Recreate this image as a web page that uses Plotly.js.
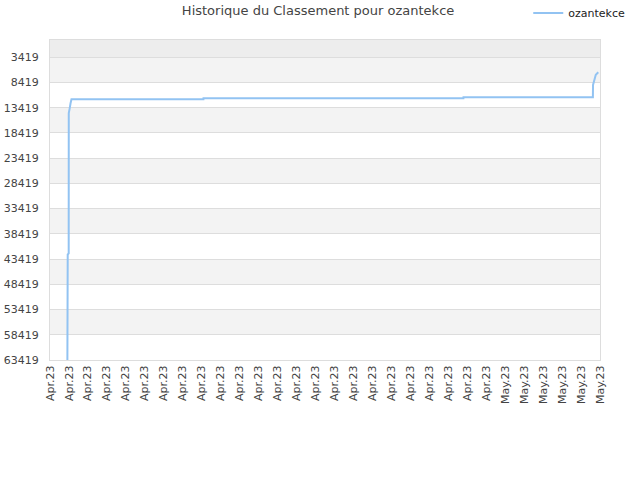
<!DOCTYPE html>
<html>
<head>
<meta charset="utf-8">
<script src="https://cdn.plot.ly/plotly-3.0.1.min.js"></script>
<style>
  html, body { margin: 0; padding: 0; background: #fff; }
  #rank_chart { width: 640px; height: 480px; }
</style>
</head>
<body>
<div id="rank_chart"></div>
<script>
// ranking history
var rank_dates = ['2023-04-07 22:00', '2023-04-07 22:25', '2023-04-07 23:40', '2023-04-07 23:45',
                  '2023-04-08 00:55', '2023-04-08 01:00', '2023-04-08 02:00', '2023-04-08 03:10',
                  '2023-04-15 02:10', '2023-04-15 02:15', '2023-04-28 19:10', '2023-04-28 19:15',
                  '2023-05-05 15:00', '2023-05-05 15:10', '2023-05-05 16:50', '2023-05-05 18:40',
                  '2023-05-05 21:50'];
var rank_values = [63419, 42500, 42300, 14500, 13550, 12950, 12550, 11750,
                   11750, 11550, 11550, 11360, 11360, 8900, 7600, 6900, 6400];

var y_ticks = [3419, 8419, 13419, 18419, 23419, 28419, 33419, 38419, 43419, 48419, 53419, 58419, 63419];
var y_top = 1;
var x_start = '2023-04-07';
var x_end = '2023-05-06';

var RANK_CHART = document.getElementById('rank_chart');

function rank_chart()
{
    var trace1 = {  x: rank_dates,
                    y: rank_values,
                    mode: 'lines',
                    name: 'ozantekce',
                    line: {color: '#92c3f2', width: 2}
                 };

    // alternating background bands between the y ticks
    var shapes = [{type: 'rect', xref: 'paper', yref: 'y', x0: 0, x1: 1,
                   y0: y_top, y1: y_ticks[0], fillcolor: '#ededed', line: {width: 0}, layer: 'below'}];
    for (var i = 0; i < y_ticks.length - 1; i += 2) {
        shapes.push({type: 'rect', xref: 'paper', yref: 'y', x0: 0, x1: 1,
                     y0: y_ticks[i], y1: y_ticks[i + 1], fillcolor: '#f3f3f3',
                     line: {width: 0}, layer: 'below'});
    }

    var layout = {width: 640, height: 480,
                  font: {family: 'DejaVu Sans', size: 11, color: '#444'},
                  title: {text: 'Historique du Classement pour ozantekce', x: 0.497, y: 0.9875,
                          font: {size: 13, color: '#444'}},
                  showlegend: true,
                  legend: {x: 1.055, xanchor: 'right', y: 1.13, yanchor: 'top',
                           font: {size: 11, color: '#222'}, bgcolor: 'rgba(0,0,0,0)'},
                  margin: {l: 50, r: 40, t: 40, b: 120, pad: 0, autoexpand: false},
                  plot_bgcolor: '#fff',
                  shapes: shapes,
                  xaxis: {type: 'date', range: [x_start, x_end], tick0: x_start, dtick: 86400000,
                          tickformat: '%b.%y', tickangle: -90, showgrid: false,
                          showline: true, linecolor: '#ddd', mirror: true, ticks: '',
                          zeroline: false, tickfont: {size: 11, color: '#444'}},
                  yaxis: {range: [63419, y_top], tickvals: y_ticks, ticktext: y_ticks.map(String),
                          gridcolor: '#ddd', showline: true, linecolor: '#ddd', mirror: true,
                          zeroline: false, ticks: '', ticklabelstandoff: 8,
                          tickfont: {size: 11, color: '#444'}}
                 };

    var config = {'displayModeBar': false, 'responsive': false, 'staticPlot': true};

    Plotly.newPlot(RANK_CHART, [trace1], layout, config);
}

rank_chart();
</script>
</body>
</html>
